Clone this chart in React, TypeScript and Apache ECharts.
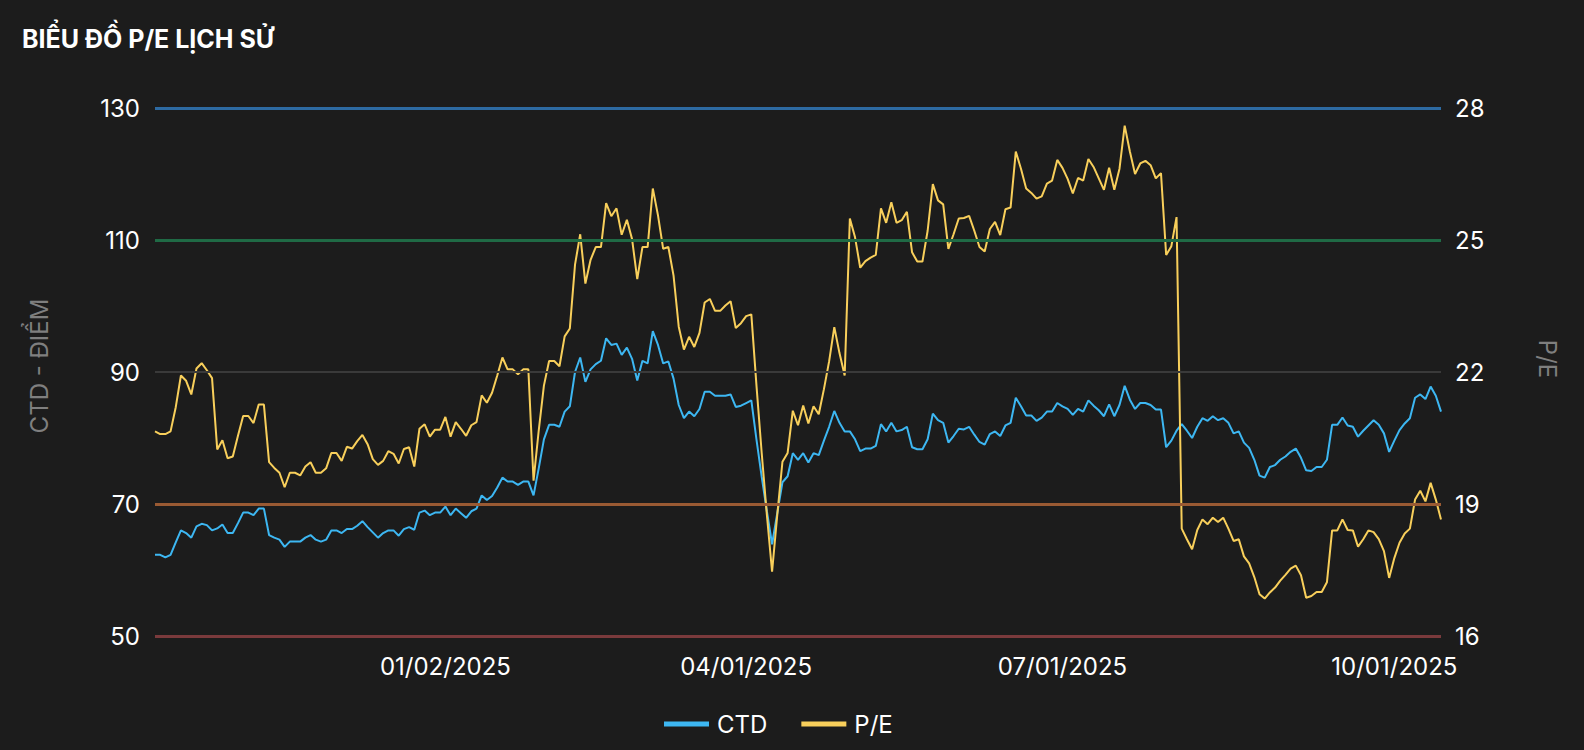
import React, { useEffect, useRef } from "react";
import * as echarts from "echarts";

// ---- Data ----
const START_DATE = "2024-10-15";
const END_DATE = "2025-10-14";
const HOLIDAYS = [
  "2025-01-01", "2025-01-27", "2025-01-28", "2025-01-29", "2025-01-30", "2025-01-31",
  "2025-04-07", "2025-04-30", "2025-05-01", "2025-05-02", "2025-09-01", "2025-09-02",
];
const X_TICK_LABELS = ["01/02/2025", "04/01/2025", "07/01/2025", "10/01/2025"];

const ctdValues = [
  62.3, 62.3, 61.9, 62.3, 64.2, 66.0, 65.6, 64.9, 66.6, 67.0, 66.8, 66.0, 66.3, 66.9, 65.6, 65.6,
  67.1, 68.7, 68.7, 68.3, 69.3, 69.3, 65.3, 64.9, 64.6, 63.5, 64.3, 64.3, 64.3, 64.9, 65.3, 64.6,
  64.3, 64.6, 66.0, 66.0, 65.6, 66.2, 66.2, 66.7, 67.4, 66.5, 65.7, 64.9, 65.6, 66.0, 66.0, 65.2,
  66.2, 66.5, 66.1, 68.7, 69.0, 68.3, 68.7, 68.7, 69.6, 68.3, 69.3, 68.6, 67.9, 68.9, 69.3,
  71.3, 70.6, 71.2, 72.5, 74.0, 73.4, 73.4, 72.9, 73.4, 73.4, 71.3, 75.4, 79.8, 82.0, 82.0, 81.7,
  84.0, 84.8, 90.0, 92.2, 88.5, 90.4, 91.2, 91.7, 95.1, 94.1, 94.3, 92.6, 93.7, 92.0, 88.7,
  91.7, 91.3, 96.2, 94.1, 91.3, 91.6, 89.0, 85.0, 83.0, 84.0, 83.3, 84.4, 87.0, 87.0, 86.4, 86.4,
  86.4, 86.6, 84.7, 84.9, 85.3, 85.7, 79.7, 74.1, 68.9, 63.9, 68.6, 73.3, 74.2, 77.7, 76.7,
  77.7, 76.3, 77.7, 77.4, 79.6, 81.7, 84.1, 82.3, 81.0, 81.0, 79.8, 78.0, 78.4, 78.4, 78.8, 82.1,
  81.0, 82.3, 81.0, 81.2, 81.7, 78.6, 78.3, 78.3, 79.8, 83.7, 82.7, 82.3, 79.3, 80.3, 81.4,
  81.3, 81.7, 80.5, 79.4, 79.0, 80.6, 81.0, 80.3, 81.9, 82.3, 86.1, 84.8, 83.4, 83.4, 82.6, 83.1,
  84.0, 84.0, 85.3, 84.8, 84.4, 83.5, 84.4, 84.0, 85.7, 84.9, 84.2, 83.3, 85.1, 83.3, 85.0,
  87.9, 85.8, 84.4, 85.3, 85.3, 85.0, 84.3, 84.3, 78.6, 79.6, 81.1, 82.1, 81.1, 80.0, 81.7, 83.0,
  82.6, 83.3, 82.7, 83.0, 82.3, 80.7, 81.0, 79.3, 78.5, 76.7, 74.3, 74.0, 75.6, 75.9, 76.7,
  77.2, 77.9, 78.4, 77.0, 75.1, 75.0, 75.6, 75.6, 76.7, 82.0, 82.0, 83.1, 81.9, 81.7, 80.2, 81.1,
  81.9, 82.7, 82.0, 80.7, 77.9, 79.6, 81.2, 82.2, 83.0, 86.1, 86.6, 85.9, 87.8, 86.4, 84.0,
];

const peValues = [
  20.65, 20.59, 20.59, 20.65, 21.2, 21.92, 21.8, 21.49, 22.08, 22.2, 22.04, 21.86, 20.24, 20.45, 20.04, 20.08,
  20.55, 21.0, 21.0, 20.84, 21.26, 21.26, 19.95, 19.82, 19.71, 19.38, 19.71, 19.71, 19.65, 19.85, 19.95, 19.71,
  19.71, 19.81, 20.16, 20.16, 19.98, 20.3, 20.26, 20.43, 20.57, 20.36, 20.02, 19.89, 19.98, 20.2, 20.14, 19.92,
  20.25, 20.29, 19.85, 20.71, 20.81, 20.53, 20.69, 20.69, 20.98, 20.53, 20.86, 20.71, 20.55, 20.79, 20.86,
  21.47, 21.3, 21.53, 21.92, 22.33, 22.06, 22.06, 21.95, 22.06, 22.06, 19.53, 20.67, 21.69, 22.25, 22.25, 22.13,
  22.81, 22.99, 24.44, 25.13, 24.01, 24.55, 24.84, 24.84, 25.84, 25.54, 25.72, 25.12, 25.46, 25.02, 24.11,
  24.84, 24.84, 26.17, 25.56, 24.8, 24.84, 24.19, 23.03, 22.51, 22.8, 22.57, 22.89, 23.58, 23.66, 23.39, 23.39,
  23.51, 23.61, 23.0, 23.11, 23.27, 23.31, 21.68, 20.16, 18.75, 17.46, 18.75, 19.96, 20.16, 21.12, 20.79,
  21.24, 20.83, 21.22, 21.04, 21.61, 22.24, 23.02, 22.43, 21.92, 25.49, 25.06, 24.37, 24.52, 24.6, 24.66, 25.72,
  25.39, 25.86, 25.39, 25.45, 25.64, 24.72, 24.51, 24.51, 25.21, 26.27, 25.9, 25.81, 24.8, 25.13, 25.49,
  25.5, 25.55, 25.21, 24.84, 24.74, 25.25, 25.41, 25.11, 25.7, 25.74, 27.01, 26.62, 26.17, 26.07, 25.94, 25.99,
  26.28, 26.35, 26.82, 26.64, 26.39, 26.06, 26.41, 26.35, 26.84, 26.66, 26.4, 26.14, 26.64, 26.14, 26.62,
  27.6, 27.01, 26.5, 26.74, 26.8, 26.7, 26.4, 26.52, 24.66, 24.86, 25.52, 18.44, 18.2, 17.97, 18.41, 18.65,
  18.54, 18.69, 18.59, 18.69, 18.44, 18.16, 18.2, 17.81, 17.65, 17.34, 16.95, 16.85, 16.99, 17.1, 17.26,
  17.39, 17.53, 17.6, 17.38, 16.87, 16.91, 17.0, 17.0, 17.22, 18.4, 18.4, 18.65, 18.41, 18.4, 18.03, 18.2,
  18.4, 18.36, 18.2, 17.93, 17.32, 17.77, 18.12, 18.33, 18.44, 19.1, 19.3, 19.06, 19.48, 19.1, 18.65,
];

const peBands = [16, 19, 22, 25, 28];
const bandColors = ["#7a3a3c", "#9a5a33", "#3a3a3a", "#1f6a45", "#2d6aa2"];
const bandWidths = [3, 3, 2, 3, 3];

// ---- Helpers ----
function tradingDays(start: string, end: string, holidays: string[]): string[] {
  const out: string[] = [];
  const d = new Date(start + "T00:00:00Z");
  const e = new Date(end + "T00:00:00Z");
  while (d.getTime() <= e.getTime()) {
    const iso = d.toISOString().slice(0, 10);
    const wd = d.getUTCDay();
    if (wd !== 0 && wd !== 6 && holidays.indexOf(iso) < 0) {
      const [y, m, dd] = iso.split("-");
      out.push(`${m}/${dd}/${y}`);
    }
    d.setUTCDate(d.getUTCDate() + 1);
  }
  return out;
}

const categories = tradingDays(START_DATE, END_DATE, HOLIDAYS);

const FONT = "Inter, 'Noto Sans', sans-serif";
const BG = "#1c1c1c";

export default function App() {
  const ref = useRef<HTMLDivElement>(null);

  useEffect(() => {
    document.body.style.margin = "0";
    document.body.style.background = BG;
    if (!ref.current) return;
    const chart = echarts.init(ref.current, undefined, { renderer: "svg" });
    chart.setOption({
      animation: false,
      backgroundColor: BG,
      textStyle: { fontFamily: FONT },
      title: {
        text: "BIỂU ĐỒ P/E LỊCH SỬ",
        left: 17,
        top: 21,
        textStyle: { color: "#ffffff", fontSize: 25, fontWeight: "bold", fontFamily: FONT },
      },
      legend: {
        data: ["CTD", "P/E"],
        left: 659,
        top: 707,
        icon: "rect",
        itemWidth: 45,
        itemHeight: 5,
        itemGap: 34,
        textStyle: { color: "#ffffff", fontSize: 24, fontFamily: FONT, padding: [0, 0, 0, 3] },
      },
      grid: { left: 155, right: 143, top: 108, bottom: 114 },
      xAxis: {
        type: "category",
        data: categories,
        boundaryGap: false,
        axisLine: { show: false },
        axisTick: { show: false },
        splitLine: { show: false },
        axisLabel: {
          color: "#ffffff",
          fontSize: 24,
          fontFamily: FONT,
          margin: 18,
          interval: (_i: number, v: string) => X_TICK_LABELS.indexOf(v) >= 0,
        },
      },
      yAxis: [
        {
          type: "value",
          min: 50,
          max: 130,
          interval: 20,
          name: "CTD - ĐIỂM",
          nameLocation: "middle",
          nameGap: 104,
          nameTextStyle: { color: "#7f7f7f", fontSize: 24, fontFamily: FONT, padding: [0, 0, 0, 12] },
          axisLine: { show: false },
          axisTick: { show: false },
          splitLine: { show: false },
          axisLabel: { color: "#ffffff", fontSize: 24, fontFamily: FONT, margin: 15 },
        },
        {
          type: "value",
          min: 16,
          max: 28,
          interval: 3,
          name: "P/E",
          nameLocation: "middle",
          nameGap: 94,
          nameRotate: -90,
          nameTextStyle: { color: "#7f7f7f", fontSize: 24, fontFamily: FONT, padding: [0, 26, 0, 0] },
          axisLine: { show: false },
          axisTick: { show: false },
          splitLine: { show: false },
          axisLabel: { color: "#ffffff", fontSize: 24, fontFamily: FONT, margin: 14 },
        },
      ],
      series: [
        {
          name: "bands",
          type: "line",
          yAxisIndex: 1,
          data: [],
          z: 1,
          silent: true,
          markLine: {
            silent: true,
            symbol: ["none", "none"],
            label: { show: false },
            data: peBands.map((v, k) => ({
              yAxis: v,
              lineStyle: { color: bandColors[k], width: bandWidths[k], type: "solid" },
            })),
          },
        },
        {
          name: "CTD",
          type: "line",
          yAxisIndex: 0,
          data: ctdValues,
          showSymbol: false,
          z: 3,
          lineStyle: { color: "#3db7f2", width: 2 },
          itemStyle: { color: "#3db7f2" },
        },
        {
          name: "P/E",
          type: "line",
          yAxisIndex: 1,
          data: peValues,
          showSymbol: false,
          z: 4,
          lineStyle: { color: "#f8cf5b", width: 2 },
          itemStyle: { color: "#f8cf5b" },
        },
      ],
    });
    return () => chart.dispose();
  }, []);

  return <div ref={ref} style={{ width: 1584, height: 750, background: BG }} />;
}
